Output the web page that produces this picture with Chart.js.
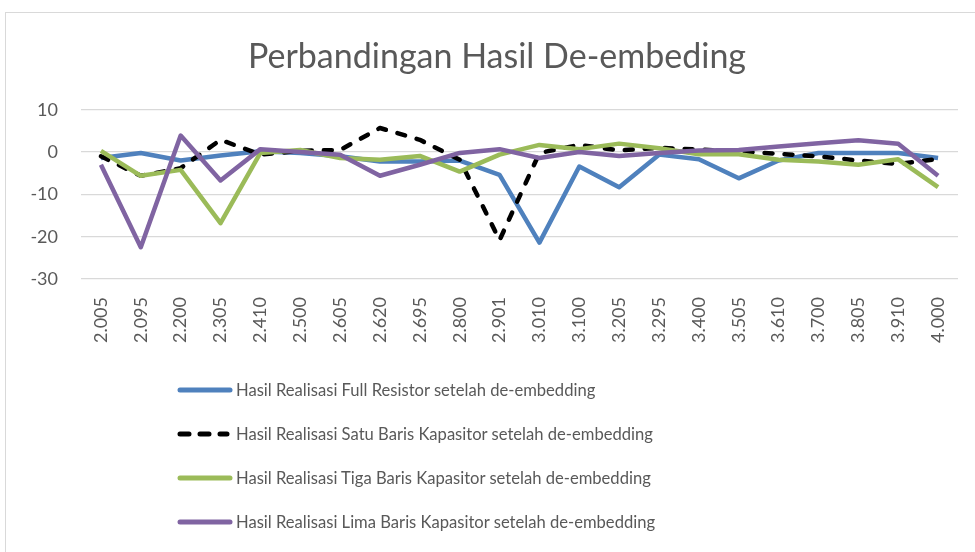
<!DOCTYPE html>
<html>
<head>
<meta charset="utf-8">
<script src="https://cdn.jsdelivr.net/npm/chart.js@4/dist/chart.umd.min.js"></script>
<style>
  html, body { margin: 0; padding: 0; background: #fff; }
  #wrap { position: relative; width: 975px; height: 552px; overflow: hidden; }
  #frame { position: absolute; left: 5px; top: 12px; width: 1000px; height: 600px; border-left: 1px solid #d9d9d9; border-top: 1px solid #d9d9d9; }
  #grafico { position: absolute; left: 0; top: 0; }
  #legenda { position: absolute; left: 177px; top: 378px; font-family: Lato, sans-serif; font-size: 16.6px; color: #595959; }
  .item { height: 44px; display: flex; align-items: center; margin-top: -10px; margin-bottom: 10px; }
  .item svg { margin-right: 3px; }
</style>
</head>
<body>
<div id="wrap">
  <div id="frame"></div>
  <canvas id="grafico" width="975" height="552"></canvas>
  <div id="legenda"></div>
</div>
<script>
const frekuensi = ["2.005", "2.095", "2.200", "2.305", "2.410", "2.500", "2.605", "2.620", "2.695", "2.800", "2.901",
  "3.010", "3.100", "3.205", "3.295", "3.400", "3.505", "3.610", "3.700", "3.805", "3.910", "4.000"]

const fullResistor = [-1.4, -0.2, -2, -0.8, 0.2, -0.2, -1, -2.2, -2.2, -2, -5.4, -21.4, -3.4, -8.3, -0.6, -1.7, -6.2, -2, -0.2, -0.2, -0.2, -1.4]
const satuBaris = [-1, -5.6, -3.8, 2.9, -0.6, 0.3, 0.5, 5.7, 2.9, -1.8, -20.8, -0.2, 1.7, 0.4, 1.0, 0.6, 0.2, -0.4, -1, -2, -2.8, -1.6]
const tigaBaris = [0.3, -5.6, -4.2, -16.8, -0.2, 0.5, -1.4, -1.8, -0.9, -4.6, -0.6, 1.7, 0.7, 2.0, 0.9, -0.5, -0.5, -1.8, -2.2, -3, -1.7, -8.3]
const limaBaris = [-3, -22.5, 3.9, -6.7, 0.7, 0, -0.6, -5.6, -3, -0.2, 0.7, -1.4, 0, -0.9, -0.2, 0.4, 0.5, 1.3, 2.1, 2.8, 2, -5.6]

const yTicks = [10, 0, -10, -20, -30]
const abu = "#595959"

function seri(label, data, warna, urutan, dash) {
  return {
    label: label,
    data: data,
    borderColor: warna,
    backgroundColor: warna,
    borderWidth: 4.5,
    borderDash: dash || [],
    borderCapStyle: dash ? "round" : "butt",
    borderJoinStyle: "round",
    pointRadius: 0,
    tension: 0,
    order: urutan
  }
}

const grafico = new Chart(document.getElementById("grafico").getContext("2d"), {
  type: "line",
  data: {
    labels: frekuensi,
    datasets: [
      seri("Hasil Realisasi Full Resistor setelah de-embedding", fullResistor, "#4f81bd", 3),
      seri("Hasil Realisasi Satu Baris Kapasitor setelah de-embedding", satuBaris, "#000000", 2, [8, 12]),
      seri("Hasil Realisasi Tiga Baris Kapasitor setelah de-embedding", tigaBaris, "#9bbb59", 1),
      seri("Hasil Realisasi Lima Baris Kapasitor setelah de-embedding", limaBaris, "#8064a2", 0)
    ]
  },
  options: {
    responsive: false,
    animation: false,
    layout: { padding: { left: 19, right: 0, top: 12, bottom: 203 } },
    plugins: {
      legend: { display: false },
      tooltip: { enabled: false },
      title: {
        display: true,
        text: "Perbandingan Hasil De-embeding",
        color: abu,
        font: { family: "Lato", size: 34, weight: "normal" },
        padding: { top: 25, bottom: 32 }
      }
    },
    scales: {
      x: {
        offset: true,
        grid: { display: false },
        border: { display: false },
        ticks: { color: abu, font: { family: "Lato", size: 18 }, minRotation: 90, maxRotation: 90, padding: 10, autoSkip: false },
        afterFit: (s) => { s.height = 70 }
      },
      y: {
        min: -30,
        max: 10,
        afterBuildTicks: (s) => { s.ticks = yTicks.map((v) => ({ value: v })) },
        grid: { color: "#d9d9d9", lineWidth: 1.3, drawTicks: false },
        border: { display: false },
        ticks: { color: abu, font: { family: "Lato", size: 18 }, padding: 23 },
        afterFit: (s) => { s.width = 62 }
      },
      // sumbu kosong di kanan, cuma buat ruang
      kanan: {
        position: "right",
        display: true,
        grid: { display: false },
        border: { display: false },
        ticks: { display: false },
        afterFit: (s) => { s.width = 17 }
      }
    }
  }
})

// legenda manual, satu baris per seri
const legenda = document.getElementById("legenda")
grafico.data.datasets.forEach((d) => {
  const row = document.createElement("div")
  row.className = "item"
  const dash = d.borderDash.length ? `stroke-dasharray="9 11" stroke-linecap="round"` : `stroke-linecap="round"`
  row.innerHTML = `<svg width="56" height="8"><line x1="3" y1="4" x2="${d.borderDash.length ? 50 : 53}" y2="4" stroke="${d.borderColor}" stroke-width="5" ${dash}/></svg><span>${d.label}</span>`
  legenda.appendChild(row)
})
</script>
</body>
</html>
